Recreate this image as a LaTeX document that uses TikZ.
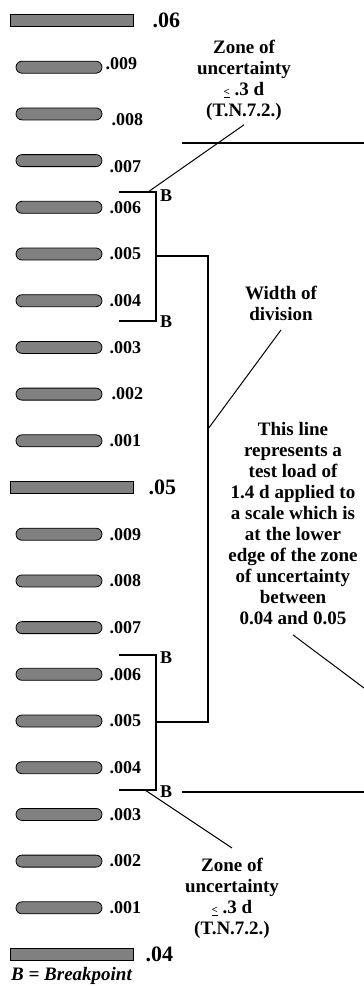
\documentclass[tikz,border=0pt]{standalone}
\usepackage{fontspec}
\setmainfont{Liberation Serif}
\usepackage{tikz}
\usetikzlibrary{positioning}
\usepackage{xcolor}
\definecolor{bargray}{RGB}{128,128,128}
\newcommand{\zoneleq}{\underline{\fontsize{11}{11}\selectfont <}}
\tikzstyle{minorbar} = [rectangle, rounded corners=6pt, minimum width=86pt, minimum height=12pt, inner sep=0pt, draw=black, fill=bargray, line width=0.8pt]
\tikzstyle{majorbar} = [rectangle, minimum width=123pt, minimum height=12pt, inner sep=0pt, draw=black, fill=bargray, line width=0.8pt]
\tikzstyle{minorlabel} = [anchor=west, inner sep=0pt, font=\fontsize{18}{18}\selectfont\bfseries]
\tikzstyle{majorlabel} = [anchor=west, inner sep=0pt, font=\fontsize{22}{22}\selectfont\bfseries]
\tikzstyle{note} = [align=center, inner sep=0pt, font=\fontsize{19}{21}\selectfont\bfseries]
\tikzstyle{bpoint} = [anchor=west, inner sep=0pt, font=\fontsize{18}{18}\selectfont\bfseries]
\tikzstyle{bline} = [line width=1.2pt]

\begin{document}
\begin{tikzpicture}[x=1pt, y=-1pt]
\useasboundingbox (0,0) rectangle (364,986);

% Major divisions
\node (major06) [majorbar] at (71.5,20.5) {};
\node (lab06) [majorlabel, right=19pt of major06] {.06};
\node (major05) [majorbar] at (71.5,487.5) {};
\node (lab05) [majorlabel, right=15pt of major05] {.05};
\node (major04) [majorbar] at (71.5,954.5) {};
\node (lab04) [majorlabel, right=12pt of major04] {.04};

% Minor divisions
\foreach \k/\dx/\dy in {1/-4/4, 2/2/-6, 3/0/-6, 4/0/0, 5/0/0, 6/0/0, 7/0/0, 8/2/0, 9/0/0} {
  \pgfmathtruncatemacro{\m}{10-\k}
  \node (minA\k) [minorbar] at (59,20.5+46.7*\k) {};
  \node (labA\k) [minorlabel, right=7pt of minA\k, xshift=\dx pt, yshift=\dy pt] {.00\m};
}
\foreach \k in {1,...,9} {
  \pgfmathtruncatemacro{\m}{10-\k}
  \node (minB\k) [minorbar] at (59,487.5+46.7*\k) {};
  \node (labB\k) [minorlabel, right=7pt of minB\k] {.00\m};
}

% Breakpoints
\coordinate (bkA1) at (119,192);
\coordinate (bkA2) at (156,192);
\coordinate (bkA3) at (156,321);
\coordinate (bkA4) at (119,321);
\draw[bline] (bkA1) -- (bkA2) -- (bkA3) -- (bkA4);
\node (bA1) [bpoint] at (160,196) {B};
\node (bA2) [bpoint] at (160,322) {B};

\coordinate (bkB1) at (119,655);
\coordinate (bkB2) at (156,655);
\coordinate (bkB3) at (156,790);
\coordinate (bkB4) at (119,790);
\draw[bline] (bkB1) -- (bkB2) -- (bkB3) -- (bkB4);
\node (bB1) [bpoint] at (160,658) {B};
\node (bB2) [bpoint] at (160,792) {B};

% Width of division
\coordinate (wd1) at (156,256);
\coordinate (wd2) at (208,256);
\coordinate (wd3) at (208,722);
\coordinate (wd4) at (156,722);
\draw[bline] (wd1) -- (wd2) -- (wd3) -- (wd4);

% Test load lines
\coordinate (topA) at (182,143);
\coordinate (topB) at (364,143);
\draw[bline] (topA) -- (topB);
\coordinate (lowA) at (182,792);
\coordinate (lowB) at (364,792);
\draw[bline] (lowA) -- (lowB);

% Notes
\node (zoneup) [note, anchor=north] at (244,40) {Zone of\\uncertainty\\\zoneleq\ .3 d\\(T.N.7.2.)};
\node (width) [note, anchor=north] at (281,286) {Width of\\division};
\node (thisline) [note, anchor=north] at (293,422) {This line\\represents a\\test load of\\1.4 d applied to\\a scale which is\\at the lower\\edge of the zone\\of uncertainty\\between\\0.04 and 0.05};
\node (zonelow) [note, anchor=north] at (232,858) {Zone of\\uncertainty\\\zoneleq\ .3 d\\(T.N.7.2.)};
\node (legend) [note, anchor=base west, font=\fontsize{19}{21}\selectfont\bfseries\itshape] at (11,980) {B = Breakpoint};

\coordinate (zoneupend) at (148,192);
\coordinate (widthend) at (208,429);
\coordinate (thisend) at (364,688);
\coordinate (zonelowend) at (145,790);
\draw[line width=1pt] ([yshift=-4pt]zoneup.south) -- (zoneupend);
\draw[line width=1pt] ([yshift=-9pt]width.south) -- (widthend);
\draw[line width=1pt] ([yshift=-10pt]thisline.south) -- (thisend);
\draw[line width=1pt] ([yshift=10pt]zonelow.north) -- (zonelowend);
\end{tikzpicture}
\end{document}
